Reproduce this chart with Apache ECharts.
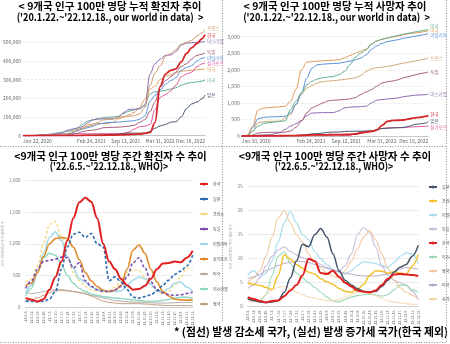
<!DOCTYPE html>
<html><head><meta charset="utf-8">
<script src="https://cdn.jsdelivr.net/npm/echarts@6/dist/echarts.min.js"></script>
<style>html,body{margin:0;padding:0;background:#fff}#c{width:450px;height:344px}</style>
</head><body><div id="c"></div>
<script>
const FONT = '"Noto Sans CJK KR", "Noto Sans", sans-serif';

// ---------- top-left: cumulative cases per million (our world in data) ----------
const casesDates = ['2020-01-22','2020-03-01','2020-04-01','2020-05-01','2020-06-01','2020-07-01','2020-08-01','2020-09-01','2020-10-01','2020-11-01','2020-12-01','2021-01-01','2021-02-01','2021-03-01','2021-04-01','2021-05-01','2021-06-01','2021-07-01','2021-08-01','2021-09-01','2021-10-01','2021-11-01','2021-12-01','2022-01-01','2022-02-01','2022-03-01','2022-04-01','2022-05-01','2022-06-01','2022-07-01','2022-08-01','2022-09-01','2022-10-01','2022-11-01','2022-12-01','2022-12-18'];
const casesFR = [0,0,800,2500,2800,3000,3500,6000,9000,20000,34000,40000,49000,56000,70000,84000,87000,89000,97000,103000,105000,107000,117000,150000,270000,335000,375000,425000,440000,460000,490000,500000,510000,535000,550000,568000];
const casesKR = [0,60,190,210,220,250,280,380,460,520,660,1190,1520,1760,2040,2370,2750,3050,3900,4990,6300,7200,8700,12200,17500,70000,265000,330000,350000,358000,395000,440000,470000,493000,520000,541000];
const casesIL = [0,0,500,1800,1900,2700,8000,13000,27000,35000,40000,48000,68000,83000,89000,90000,90000,91000,99000,125000,140000,142000,144000,160000,330000,385000,410000,430000,432000,450000,485000,495000,498000,500000,502000,505000];
const casesDE = [0,0,900,2000,2200,2300,2500,2900,3500,6300,12500,21000,27000,29000,34000,42000,44000,45000,45500,48000,51000,56000,71000,86000,130000,180000,260000,295000,315000,340000,370000,385000,410000,430000,437000,442000];
const casesIT = [0,0,1800,3400,3900,4000,4100,4500,5200,11500,27000,35000,43000,49000,61000,67000,70000,71000,73000,76000,78000,80000,88000,106000,185000,215000,245000,275000,295000,310000,350000,365000,375000,400000,415000,420000];
const casesSG = [0,0,200,3000,6000,7500,8800,9600,10000,10100,10200,10300,10400,10500,10600,10800,11000,11300,11600,12500,20000,36000,48000,51000,60000,140000,205000,220000,240000,270000,315000,330000,340000,370000,385000,390000];
const casesUK = [0,0,400,2500,4000,4500,4800,5500,7000,14000,24000,39000,57000,62000,64000,65000,66000,73000,90000,100000,112000,125000,150000,195000,250000,265000,300000,320000,325000,338000,345000,348000,350000,353000,355000,357000];
const casesUS = [0,0,600,3300,5500,8000,14000,18000,22000,28000,41000,60000,78000,85000,91000,96000,99000,100000,105000,119000,131000,138000,146000,165000,225000,235000,238000,243000,250000,257000,270000,279000,285000,288000,293000,296000];
const casesJP = [0,0,20,110,140,150,300,530,660,800,1200,1900,3100,3400,3800,4700,5900,6500,7800,12600,13600,13700,13700,13900,22500,40000,52000,60000,72000,75000,100000,145000,170000,180000,198000,218000];
const casesTicks = [0,100000,200000,300000,400000,500000];
const casesTickDates = ['2020-01-22','2021-02-24','2021-09-12','2022-03-31','2022-12-18'];
const casesTickLabels = ['Jan 22, 2020','Feb 24, 2021','Sep 12, 2021','Mar 31, 2022','Dec 18, 2022'];

// ---------- top-right: cumulative deaths per million ----------
const deathsDates = ['2020-01-30','2020-03-01','2020-04-01','2020-05-01','2020-06-01','2020-07-01','2020-08-01','2020-09-01','2020-10-01','2020-11-01','2020-12-01','2021-01-01','2021-02-01','2021-03-01','2021-04-01','2021-05-01','2021-06-01','2021-07-01','2021-08-01','2021-09-01','2021-10-01','2021-11-01','2021-12-01','2022-01-01','2022-02-01','2022-03-01','2022-04-01','2022-05-01','2022-06-01','2022-07-01','2022-08-01','2022-09-01','2022-10-01','2022-11-01','2022-12-01','2022-12-18'];
const deathsUK = [0,5,150,300,380,400,420,440,460,800,1050,1300,1550,1650,1720,1760,1780,1800,1850,1950,2150,2380,2500,2600,2780,2870,2920,2960,3000,3040,3080,3110,3140,3170,3200,3220];
const deathsUS = [0,20,300,780,840,860,870,880,900,1050,1400,2000,2230,2250,2260,2270,2280,2290,2300,2360,2430,2500,2560,2620,2780,2870,2920,2960,2990,3020,3060,3090,3110,3130,3160,3180];
const deathsIT = [0,10,250,520,560,575,580,585,600,700,950,1300,1750,2050,2150,2170,2180,2190,2200,2230,2260,2300,2350,2450,2620,2720,2800,2850,2880,2910,2950,2980,3010,3040,3070,3090];
const deathsFR = [0,5,150,400,430,440,445,450,550,650,950,1250,1450,1520,1600,1640,1660,1670,1690,1710,1730,1760,1820,1950,2030,2060,2080,2100,2130,2170,2200,2230,2260,2290,2330,2360];
const deathsDE = [0,0,30,90,105,110,110,112,115,150,260,450,700,850,920,1000,1060,1080,1090,1100,1120,1160,1250,1330,1400,1500,1600,1640,1660,1700,1760,1800,1840,1880,1910,1930];
const deathsIL = [0,0,10,25,35,40,60,100,200,300,370,470,620,690,700,705,705,710,760,850,870,880,885,900,1000,1080,1100,1120,1130,1150,1190,1210,1230,1240,1250,1260];
const deathsKR = [0,1,3,5,5,6,6,7,8,10,11,18,27,32,34,36,38,39,40,45,50,60,90,115,140,175,320,440,470,476,484,518,547,561,590,615];
const deathsJP = [0,0,0.5,4,7,8,8.5,10,12,13.5,17,27,45,62,74,88,111,119,121,135,143,145,145,147,151,188,226,235,244,249,253,294,350,366,385,435];
const deathsSG = [0,0,0.5,3,4,4.5,4.6,4.7,4.8,5,5,5.2,5.3,5.4,5.5,6,6,7,8,10,18,62,125,150,155,180,230,245,250,255,260,270,278,285,292,300];
const deathsTicks = [0,500,1000,1500,2000,2500,3000];
const deathsTickDates = ['2020-01-30','2021-02-24','2021-09-12','2022-03-31','2022-12-18'];
const deathsTickLabels = ['Jan 30, 2020','Feb 24, 2021','Sep 12, 2021','Mar 31, 2022','Dec 18, 2022'];

// ---------- bottom: weekly per million (WHO) ----------
const weekDates = ['2022-06-05','2022-06-12','2022-06-19','2022-06-26','2022-07-03','2022-07-10','2022-07-17','2022-07-24','2022-07-31','2022-08-07','2022-08-14','2022-08-21','2022-08-28','2022-09-04','2022-09-11','2022-09-18','2022-09-25','2022-10-02','2022-10-09','2022-10-16','2022-10-23','2022-10-30','2022-11-06','2022-11-13','2022-11-20','2022-11-27','2022-12-04','2022-12-11','2022-12-18'];
const weekCasesKR = [150,120,95,130,280,480,720,1050,1400,1650,1720,1660,1400,1000,720,600,450,350,280,290,340,450,600,690,700,720,710,780,890];
const weekCasesJP = [100,95,90,100,130,250,600,950,1150,1180,1100,1160,1000,950,420,480,400,280,160,150,170,200,260,350,430,520,570,650,820];
const weekCasesFR = [400,450,650,1000,1300,1350,1100,800,550,420,330,280,260,250,270,320,430,550,600,580,470,360,260,220,250,350,480,620,600];
const weekCasesDE = [300,420,600,720,740,760,790,780,620,700,420,330,280,250,250,280,330,480,700,780,620,400,280,230,200,190,200,220,240];
const weekCasesIT = [230,350,550,850,1100,1190,1050,800,620,450,400,320,280,260,250,250,260,350,430,480,450,360,270,250,300,380,400,320,250];
const weekCasesSG = [350,380,550,800,1000,1080,1100,1080,950,750,550,420,330,270,250,270,350,600,900,980,850,600,400,250,180,130,120,115,115];
const weekCasesUS = [230,220,230,250,270,280,280,270,250,230,210,190,170,150,130,110,100,90,85,85,80,75,70,70,70,75,80,80,75];
const weekCasesIL = [180,300,550,780,850,820,680,500,380,300,250,210,190,170,160,150,140,130,120,110,100,100,100,110,130,150,160,160,150];
const weekCasesUK = [100,120,150,190,230,260,270,260,250,240,220,180,140,100,80,70,60,60,60,60,55,50,40,35,30,30,30,30,30];

const weekDeathsJP = [1.7,1.3,1.0,0.9,1.0,1.3,3.0,6.0,9.5,13.0,12.5,15.0,16.3,14.5,11.0,7.5,5.5,4.5,3.8,3.2,3.0,3.2,4.2,5.5,7.2,8.2,8.8,10.5,12.8];
const weekDeathsFR = [4.9,4.7,4.4,4.0,3.6,6.5,10.8,9.9,8.8,8.0,7.2,6.8,5.8,5.2,4.6,3.8,3.2,3.0,3.6,4.6,6.5,7.5,7.4,7.0,7.3,7.0,6.8,8.5,10.8];
const weekDeathsIT = [6.5,7.5,6.3,7.0,9.5,13.5,17.5,19.8,17.5,15.0,14.0,11.5,10.0,8.8,7.8,7.2,6.8,7.5,8.6,9.4,9.2,9.0,8.5,8.2,9.2,10.5,11.2,11.0,9.0];
const weekDeathsDE = [3.8,4.5,6.0,8.5,10.5,11.8,12.5,11.5,10.8,10.2,9.8,9.5,8.8,8.2,7.6,7.5,8.5,11.0,15.0,16.5,15.5,12.5,8.5,6.5,5.5,5.0,4.5,3.2,1.5];
const weekDeathsKR = [2.0,1.6,1.2,0.9,1.2,1.3,2.2,3.4,4.5,6.5,10.0,9.5,7.0,6.8,7.5,6.2,5.0,4.2,3.4,3.1,3.0,3.4,4.5,5.8,6.7,6.8,6.7,6.6,6.4];
const weekDeathsIL = [1.5,1.2,1.0,2.5,6.5,10.5,11.5,9.0,7.0,6.0,5.0,4.0,3.0,2.0,1.2,1.0,1.5,2.0,2.3,2.5,2.6,2.5,2.2,2.5,3.5,4.5,4.5,3.5,3.0];
const weekDeathsUK = [5.0,6.0,7.5,10.5,14.5,18.5,20.0,17.5,15.0,13.5,11.0,9.0,8.0,7.0,6.3,6.0,7.5,9.5,12.0,14.5,15.8,14.0,11.0,8.0,5.5,4.0,3.0,2.4,1.5];
const weekDeathsUS = [5.8,6.2,6.8,7.5,8.0,8.6,9.0,9.3,9.5,9.4,9.2,8.8,8.4,8.0,7.6,7.3,7.0,6.8,6.5,6.4,6.4,6.4,6.6,6.8,7.2,7.8,8.2,8.0,7.8];
const weekDeathsSG = [1.2,1.0,1.5,2.5,3.5,4.0,4.2,3.8,3.0,2.5,2.0,1.8,1.5,1.3,1.2,1.5,2.0,2.5,3.0,3.2,2.8,2.2,1.8,1.2,1.0,0.8,0.6,0.5,0.5];

// ---------- texts ----------
const titles = [
  ['< 9개국 인구 100만 명당 누적 확진자 추이', "('20.1.22.~'22.12.18., our world in data)  >"],
  ['< 9개국 인구 100만 명당 누적 사망자 추이', "('20.1.22.~'22.12.18., our world in data)  >"],
  ['<9개국 인구 100만 명당 주간 확진자 수 추이', "('22.6.5.~'22.12.18., WHO)>"],
  ['<9개국 인구 100만 명당 주간 사망자 수 추이', "('22.6.5.~'22.12.18., WHO)>"]
];
const footnote = '* (점선) 발생 감소세 국가, (실선) 발생 증가세 국가(한국 제외)';

function dayOf(d){ return Math.round((Date.parse(d) - Date.parse('2020-01-22'))/86400000); }
function weekLabel(d){ const p = d.split('-'); return p[0].slice(2)+'.'+(+p[1])+'.'+(+p[2])+'.'; }
const weekLabels = weekDates.map(weekLabel);

const series = [];
function add(key, name, grid, xs, ys, color, width, dash, endLabel, z, labelOffset) {
  const s = {
    name: key + '|' + name, type:'line', xAxisIndex:grid, yAxisIndex:grid,
    data: xs.map((x,i)=>[x, ys[i]]),
    symbol:'none', smooth:0.35, smoothMonotone:'x',
    lineStyle:{color, width, type: dash ? [3,2] : 'solid'},
    itemStyle:{color}, z: z || 2, silent:true, animation:false
  };
  if (endLabel) s.endLabel = {show:true, formatter: () => name, fontSize:4.5, color, distance:2, fontFamily:FONT, offset: labelOffset || [0,0]};
  series.push(s);
}
const cx = casesDates.map(dayOf), dx = deathsDates.map(dayOf);
add('tl','미국',0,cx,casesUS,'#5fae8e',1,false,true);
add('tl','영국',0,cx,casesUK,'#e0a060',1,false,true);
add('tl','싱가포르',0,cx,casesSG,'#e0559a',1,false,true);
add('tl','이탈리아',0,cx,casesIT,'#5b8fd6',1,false,true,2,[0,0.8]);
add('tl','독일',0,cx,casesDE,'#a35d7a',1,false,true,2,[0,-0.8]);
add('tl','이스라엘',0,cx,casesIL,'#8c6bb1',1,false,true);
add('tl','일본',0,cx,casesJP,'#44546a',1,false,true);
add('tl','프랑스',0,cx,casesFR,'#c99a6b',1,false,true,2,[0,-1]);
add('tl','한국',0,cx,casesKR,'#d62728',1.8,false,true,5,[0,0.5]);

add('tr','싱가포르',1,dx,deathsSG,'#e0559a',1,false,true,2,[0,1.5]);
add('tr','일본',1,dx,deathsJP,'#44546a',1,false,true);
add('tr','이스라엘',1,dx,deathsIL,'#8c6bb1',1,false,true);
add('tr','독일',1,dx,deathsDE,'#a35d7a',1,false,true);
add('tr','프랑스',1,dx,deathsFR,'#d2a679',1,false,true);
add('tr','이탈리아',1,dx,deathsIT,'#5b8fd6',1,false,true,2,[0,1.5]);
add('tr','미국',1,dx,deathsUS,'#e0985a',1,false,true,2,[0,0]);
add('tr','영국',1,dx,deathsUK,'#5fae8e',1,false,true,2,[0,-3]);
add('tr','한국',1,dx,deathsKR,'#d62728',1.8,false,true,5,[0,-1.5]);

add('bl','한국',2,weekLabels,weekCasesKR,'#e02020',2,false,false,6);
add('bl','일본',2,weekLabels,weekCasesJP,'#2e6db4',1.6,true,false,5);
add('bl','프랑스',2,weekLabels,weekCasesFR,'#f5dc8c',1.5,true);
add('bl','독일',2,weekLabels,weekCasesDE,'#7a4fb0',1.6,true,false,4);
add('bl','이탈리아',2,weekLabels,weekCasesIT,'#9fd8ea',1.5,false);
add('bl','싱가포르',2,weekLabels,weekCasesSG,'#e08a2a',1.6,false,false,3);
add('bl','미국',2,weekLabels,weekCasesUS,'#b5aca4',1,false);
add('bl','이스라엘',2,weekLabels,weekCasesIL,'#8fd6c0',1.4,false);
add('bl','영국',2,weekLabels,weekCasesUK,'#c0a080',1,false);

add('br','일본',3,weekLabels,weekDeathsJP,'#44546a',1.5,false,false,5);
add('br','프랑스',3,weekLabels,weekDeathsFR,'#f2c12e',1.5,false,false,4);
add('br','이탈리아',3,weekLabels,weekDeathsIT,'#a8dcef',1.2,false);
add('br','독일',3,weekLabels,weekDeathsDE,'#c8bcd8',1.1,false);
add('br','한국',3,weekLabels,weekDeathsKR,'#e02020',2,false,false,6);
add('br','이스라엘',3,weekLabels,weekDeathsIL,'#9ad8b4',1.1,false);
add('br','영국',3,weekLabels,weekDeathsUK,'#f0c8a0',1.1,false);
add('br','미국',3,weekLabels,weekDeathsUS,'#b8a8c8',1,false);
add('br','싱가포르',3,weekLabels,weekDeathsSG,'#f5d6a8',1,false);

const grayTxt = {fontSize:5, color:'#666', fontFamily:FONT};
function fmtNum(v){ return Number(v).toLocaleString('en-US'); }
function topX(grid, min, tickDates, tickLabels){
  const vals = tickDates.map(dayOf);
  return {gridIndex:grid, type:'value', min, max:dayOf('2022-12-18'),
    axisLine:{show:true, lineStyle:{color:'#bbb', width:0.8}}, axisTick:{show:false}, splitLine:{show:false},
    axisLabel:Object.assign({customValues: vals, formatter: v => tickLabels[vals.indexOf(v)] || '', margin:3,
      alignMinLabel:'left', alignMaxLabel:'right', showMinLabel:true, showMaxLabel:true, hideOverlap:false}, grayTxt)};
}
function topY(grid, max, ticks){
  return {gridIndex:grid, type:'value', min:0, max,
    axisLine:{show:false}, axisTick:{show:false, customValues:ticks},
    splitLine:{show:true, lineStyle:{color:'#e3e3e3', type:[2,2], width:0.8}},
    axisLabel:Object.assign({customValues:ticks, formatter: fmtNum, margin:2}, grayTxt)};
}
function botX(grid){
  return {gridIndex:grid, type:'category', data:weekLabels, boundaryGap:false,
    axisLine:{lineStyle:{color:'#c8c8c8', width:0.8}}, axisTick:{show:false},
    axisLabel:{interval:0, rotate:90, fontSize:3.6, color:'#666', margin:3, fontFamily:FONT}};
}
function botY(grid, max, interval, name, gap){
  return {gridIndex:grid, type:'value', min:0, max, interval,
    axisLine:{show:false}, axisTick:{show:false},
    splitLine:{lineStyle:{color:'#e6e6e6', width:0.8}},
    axisLabel:{formatter: fmtNum, fontSize:4.5, color:'#777', margin:5, fontFamily:FONT},
    name, nameLocation:'middle', nameRotate:90, nameGap:gap, nameTextStyle:{fontSize:3.6, color:'#999', fontFamily:FONT}};
}

const legendCommon = {orient:'vertical', itemWidth:8, itemHeight:4, itemGap:11, padding:0, selectedMode:false,
  textStyle:{fontSize:4, color:'#444', fontFamily:FONT}, formatter: n => n.split('|')[1]};
const blOrder = ['한국','일본','프랑스','독일','이탈리아','싱가포르','미국','이스라엘','영국'];
const brOrder = ['일본','프랑스','이탈리아','독일','한국','이스라엘','영국','미국','싱가포르'];

const graphic = [];
function txt(x, y, text, font, align, sx){ graphic.push({type:'text', x, y, scaleX: sx || 1, silent:true, style:{text, font, fill:'#000', align: align||'center', verticalAlign:'middle'}}); }
function dline(x1,y1,x2,y2){ graphic.push({type:'line', silent:true, shape:{x1,y1,x2,y2}, style:{stroke:'#8a8a8a', lineWidth:1, lineDash:[1,1.6]}}); }
const TF = 'bold 10.5px ' + FONT;
txt(110, 6.5, titles[0][0], TF); txt(110, 17.5, titles[0][1], TF, 'center', 0.87);
txt(335, 6.5, titles[1][0], TF); txt(336.5, 17.5, titles[1][1], TF, 'center', 0.87);
txt(110.5, 156.5, titles[2][0], TF); txt(109, 166, titles[2][1], TF, 'center', 0.84);
txt(335, 156.5, titles[3][0], TF); txt(334, 166, titles[3][1], TF, 'center', 0.84);
txt(448, 332, footnote, 'bold 10.8px ' + FONT, 'right');
dline(0, 146.5, 447, 146.5);
dline(222.5, 0, 222.5, 322);
dline(446.5, 0, 446.5, 342.5);
dline(0, 342.5, 447, 342.5);

const chart = echarts.init(document.getElementById('c'), null, {renderer:'canvas'});
chart.setOption({
  animation:false, backgroundColor:'#fff',
  textStyle:{fontFamily:FONT},
  grid:[
    {left:22, right:245, top:25.5, bottom:208.3},
    {left:241.7, right:21.7, top:28.4, bottom:208},
    {left:25, right:257.3, top:180, bottom:36.5},
    {left:247.7, right:31.7, top:186.7, bottom:37.3}
  ],
  xAxis:[
    topX(0, 0, casesTickDates, casesTickLabels),
    topX(1, dayOf('2020-01-30'), deathsTickDates, deathsTickLabels),
    botX(2), botX(3)
  ],
  yAxis:[
    topY(0, 590000, casesTicks),
    topY(1, 3250, deathsTicks),
    botY(2, 2000, 500, '인구 100만명당 주간 확진자 수', 21),
    botY(3, 25, 5, '인구 100만명당 주간 사망자 수', 15)
  ],
  legend:[
    Object.assign({}, legendCommon, {data: blOrder.map(n=>'bl|'+n), left:199, top:182}),
    Object.assign({}, legendCommon, {data: brOrder.map(n=>'br|'+n), left:428, top:185, itemGap:10})
  ],
  series,
  graphic
});
</script></body></html>
